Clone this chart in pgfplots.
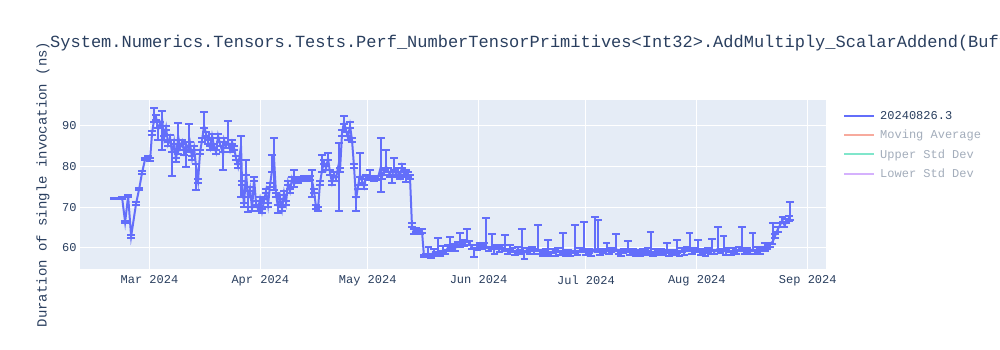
\documentclass[border=0pt]{standalone}
\usepackage{pgfplots}
\pgfplotsset{compat=1.18}
\usepackage{pgfplotstable}
\usepackage{fontspec}
\setmainfont{Liberation Mono}
\definecolor{plotblue}{HTML}{636EFA}
\definecolor{bgcol}{HTML}{E5ECF6}
\definecolor{txt}{HTML}{2A3F5F}
\definecolor{legfade}{HTML}{A3ADBB}
\definecolor{maf}{HTML}{F7AA9D}
\definecolor{upf}{HTML}{80E6CB}
\definecolor{lof}{HTML}{D5B1FD}

\pgfplotstableread{
d v ep em
-9.86 72.1 0.2 0.2
-7.63 72.3 0.3 0.3
-6.79 66.3 0.3 0.3
-5.95 72.7 0.3 0.3
-5.11 62.8 0.3 0.3
-3.72 70.9 0.3 0.3
-2.88 74.4 0.3 0.3
-2.04 78.5 0.3 0.3
-1.20 81.8 0.3 0.3
-0.36 82.3 0.3 0.3
0.20 81.8 0.3 0.6
0.75 88.3 0.5 0.5
1.31 91.4 3.0 0.5
1.87 92.0 0.5 0.6
2.43 89.0 0.5 2.5
2.99 90.5 0.5 0.5
3.55 91.5 2.2 7.5
4.11 87.0 0.5 0.5
4.66 89.5 0.5 0.6
5.22 85.5 0.4 0.5
5.78 87.0 0.6 0.5
6.34 83.0 0.5 5.3
6.90 86.0 0.5 0.5
7.46 81.5 0.5 0.5
8.02 87.5 3.2 4.5
8.58 84.5 0.4 0.5
9.13 86.0 0.5 0.5
9.69 83.5 0.5 0.6
10.25 85.5 0.5 5.6
11.09 84.0 6.3 0.5
11.37 85.5 0.5 0.5
11.93 82.0 0.5 0.5
12.49 84.5 0.5 0.5
13.04 80.0 0.5 5.8
13.60 76.5 0.5 0.5
14.16 83.5 0.5 0.5
14.72 86.5 0.5 0.5
15.28 90.0 3.4 0.5
15.84 88.0 0.5 0.5
16.40 86.0 0.5 0.5
16.96 84.5 0.5 0.5
17.51 87.5 0.5 0.5
18.07 85.0 0.5 0.5
18.63 83.5 0.5 0.5
19.19 87.5 0.5 0.5
19.75 85.5 0.5 0.5
20.59 83.0 0.5 3.9
20.87 86.5 0.5 0.5
21.42 85.0 0.5 0.5
21.98 86.0 5.2 0.5
22.54 84.0 0.5 0.5
23.10 86.0 0.5 0.5
23.66 84.5 0.5 0.5
24.22 82.0 0.5 0.5
24.78 80.0 0.5 0.5
25.61 85.0 2.5 12.5
25.89 76.0 0.5 0.5
26.45 70.5 0.5 0.5
27.01 78.5 3.0 0.5
27.57 72.0 0.5 3.2
28.13 74.5 0.5 0.5
28.69 69.5 0.5 0.5
29.25 77.0 0.5 0.5
29.80 71.0 0.5 0.5
30.36 69.5 0.5 0.5
30.92 72.0 0.5 0.5
31.48 69.0 0.5 0.5
32.04 71.5 0.5 0.5
32.60 74.0 0.5 0.5
33.16 70.5 0.5 0.5
33.72 75.5 0.5 0.5
34.27 79.0 3.8 0.5
34.83 82.0 5.0 7.8
35.39 73.0 0.5 0.5
35.95 70.0 0.5 1.4
36.51 72.5 0.5 0.5
37.07 69.5 0.5 0.5
37.63 73.5 0.5 0.5
38.18 71.0 0.5 0.5
38.74 76.0 0.5 0.5
39.30 74.0 0.5 0.5
39.86 77.0 0.5 0.5
40.42 75.5 3.6 0.5
40.98 77.0 0.5 0.5
41.54 76.5 0.5 0.5
42.09 77.0 0.5 0.5
42.65 76.8 0.5 0.5
43.21 77.2 0.5 0.5
43.77 76.8 0.5 0.5
44.33 77.0 0.5 0.5
44.89 77.2 0.5 0.5
45.45 76.5 2.6 4.0
46.00 74.0 0.5 0.5
46.56 70.0 0.5 0.5
47.12 69.5 0.5 0.5
47.68 76.0 0.5 0.5
48.24 79.0 3.8 0.5
48.80 81.0 0.5 0.5
49.36 79.5 0.5 0.5
49.92 82.0 1.3 0.5
50.47 78.5 0.5 0.5
51.03 76.0 0.5 0.5
51.59 78.0 0.5 0.5
52.15 77.0 0.5 0.5
53.00 81.0 4.8 12.0
53.27 79.0 0.5 0.5
53.83 88.0 1.0 0.5
54.39 91.0 1.4 0.5
54.94 89.0 0.5 0.5
55.50 87.0 0.5 0.5
56.06 90.0 0.8 0.5
56.62 86.5 0.5 0.5
57.18 80.0 0.5 0.5
57.74 72.0 0.5 3.0
58.30 75.0 0.5 0.5
58.85 78.0 5.3 0.5
59.41 76.5 0.5 0.5
59.97 75.0 0.5 0.5
60.53 77.5 0.5 0.5
61.09 77.2 0.5 0.5
61.65 77.2 1.8 0.5
62.21 77.2 0.5 0.5
62.77 77.0 0.5 0.5
63.32 77.2 0.5 0.5
63.88 77.2 0.5 0.5
64.72 80.0 7.0 6.3
65.00 77.5 0.5 0.5
65.56 78.5 0.5 0.5
66.12 80.0 4.0 0.5
66.68 79.0 0.5 0.5
67.23 78.0 0.5 0.5
67.79 77.5 0.5 1.5
68.35 79.5 2.5 0.5
68.91 78.0 0.5 0.5
69.47 79.0 0.5 0.5
70.03 77.5 0.5 0.5
70.59 80.0 0.5 0.5
71.15 78.0 0.5 0.5
71.70 78.5 0.5 2.3
72.26 78.0 0.5 0.5
72.82 77.5 0.5 0.5
73.38 65.5 0.5 0.5
73.94 64.0 0.5 0.5
74.50 64.3 0.5 0.5
75.06 63.8 0.5 0.5
75.61 64.0 0.5 0.5
76.17 64.2 0.5 0.6
76.73 58.0 0.3 0.3
77.3 58.2 0.4 0.4
78.0 58.6 1.6 0.4
78.7 58.0 0.5 0.4
79.4 59.0 0.6 0.5
80.1 58.4 0.5 0.5
80.7 59.2 3.1 0.6
81.4 58.6 0.6 0.5
82.1 59.5 1.0 0.5
82.8 59.0 0.5 0.6
83.4 60.0 0.6 0.5
84.0 59.6 3.1 0.5
84.7 60.4 0.5 0.6
85.4 59.8 0.6 0.5
86.1 61.0 0.5 0.6
86.8 60.6 3.1 0.5
87.5 61.5 0.5 0.5
88.1 61.0 0.6 0.5
88.7 62.0 2.7 0.5
89.4 61.2 0.5 0.5
90.1 60.2 0.5 0.6
90.8 59.4 0.5 1.7
91.5 60.0 0.6 0.5
92.2 60.8 0.5 0.5
92.9 60.2 0.5 0.5
93.5 60.6 0.5 0.6
94.1 60.4 7.0 0.5
94.8 59.8 0.5 0.5
95.7 60.2 3.3 0.5
96.4 59.6 0.5 1.0
97.1 60.3 0.5 0.5
97.8 59.5 0.6 0.5
98.5 60.1 0.5 0.5
99.4 59.8 3.3 0.5
100.1 59.2 0.5 0.6
100.8 60.0 0.6 0.5
101.5 59.4 0.5 0.5
102.2 58.8 0.5 0.5
102.9 59.6 0.5 0.6
103.5 59.0 0.5 0.5
104.1 59.5 5.0 0.5
104.8 58.8 0.5 1.6
105.5 59.4 0.5 0.5
106.2 58.9 0.6 0.5
106.9 59.8 0.5 0.5
107.6 59.2 0.5 0.6
108.6 59.6 6.0 0.5
109.3 59.0 0.5 0.5
110.0 58.6 0.6 0.5
110.7 59.3 0.5 0.5
111.4 59.0 3.0 0.6
112.1 58.5 0.5 0.5
112.8 59.2 0.5 0.5
113.5 58.7 0.5 0.6
114.2 59.4 0.6 0.5
114.9 58.8 0.5 0.5
115.6 59.2 4.4 0.5
116.3 58.5 0.5 0.6
117.0 59.0 0.5 0.5
117.7 58.6 0.5 0.5
118.9 59.3 6.3 0.5
119.6 58.8 0.5 0.5
120.3 59.4 0.5 0.5
121.4 59.6 6.8 0.6
122.1 58.7 0.5 0.5
122.8 59.2 0.5 0.5
123.5 58.6 0.5 0.6
124.5 59.8 7.8 0.5
125.3 59.5 7.4 0.5
126.0 58.8 0.5 0.5
126.7 59.3 0.5 0.6
127.8 59.6 1.6 0.5
128.5 58.9 0.5 0.5
129.2 59.5 0.5 0.5
130.4 59.8 3.6 0.5
131.1 59.0 0.5 0.6
131.8 58.6 0.5 0.5
132.5 59.3 0.5 0.5
133.7 59.4 2.2 0.5
134.4 58.9 0.5 0.6
135.1 59.3 0.5 0.5
135.8 58.6 0.5 0.5
136.5 59.0 0.5 0.5
137.2 58.5 0.5 0.6
137.9 59.2 0.5 0.5
138.6 58.8 0.5 0.5
139.3 59.4 0.5 0.5
140.1 59.0 5.0 0.5
140.8 58.5 0.5 0.6
141.5 59.1 0.5 0.5
142.2 58.7 0.5 0.5
142.9 59.3 0.5 0.5
143.6 58.9 0.5 0.6
144.6 59.3 1.9 0.5
145.3 58.6 0.5 0.5
146.0 59.0 0.5 0.5
146.7 58.8 0.5 0.6
147.4 59.2 2.8 0.5
148.1 58.6 0.5 0.5
148.8 59.4 0.5 0.5
149.5 58.9 0.5 0.6
150.2 59.6 0.5 0.5
151.0 59.8 3.8 0.5
151.7 59.0 0.5 0.5
152.4 59.5 0.5 0.6
153.3 59.4 2.6 0.5
154.0 58.8 0.5 0.5
154.7 59.2 0.5 0.5
155.4 58.7 0.5 0.6
156.1 59.4 0.5 0.5
156.8 59.0 0.5 0.5
157.2 59.6 2.6 0.5
157.9 59.0 0.5 0.5
158.9 59.8 5.4 0.6
159.6 59.2 0.5 0.5
160.5 59.6 3.4 0.5
161.2 58.9 0.5 0.6
161.9 59.4 0.5 0.5
162.6 58.8 0.5 0.5
163.3 59.5 0.5 0.5
164.0 59.0 0.5 0.6
164.8 59.6 0.5 0.5
165.6 59.8 5.4 0.5
166.3 59.0 0.5 0.5
167.0 59.5 0.5 0.6
167.7 58.9 0.5 0.5
168.6 59.6 4.0 0.5
169.3 59.0 0.5 0.5
170.0 59.6 0.5 0.6
170.7 59.1 0.5 0.5
171.4 59.8 0.5 0.5
172.0 59.6 1.6 0.5
172.7 60.2 0.5 0.6
173.4 60.8 0.5 0.5
174.2 61.5 4.5 0.5
174.9 63.0 0.5 0.6
175.6 64.5 0.5 0.5
176.2 65.5 0.5 0.5
176.9 66.8 0.8 0.5
177.5 65.5 0.5 0.5
178.1 66.5 0.5 0.5
178.7 67.2 0.5 0.5
178.97 67.3 4.0 0.5
}\datatable

\begin{document}
\begin{tikzpicture}[x=1pt,y=1pt]
\useasboundingbox (0,0) rectangle (1000,350);
\fill[white] (0,0) rectangle (1000,350);
\node[anchor=base west, inner sep=0pt, font=\fontsize{17}{20}\selectfont, text=txt] at (50,302)
 {System.Numerics.Tensors.Tests.Perf\_NumberTensorPrimitives<Int32>.AddMultiply\_ScalarAddend(Buffer)};
\begin{axis}[
  at={(80pt,81pt)}, anchor=south west,
  width=746pt, height=169pt, scale only axis,
  xmin=-19.4, xmax=189.1, ymin=54.8, ymax=96.3,
  axis background/.style={fill=bgcol},
  axis line style={draw=none},
  tick style={draw=none},
  grid=major,
  major grid style={white, line width=1pt},
  xtick={0,31,61,92,122,153,184},
  xticklabels={Mar 2024,Apr 2024,May 2024,Jun 2024,Jul 2024,Aug 2024,Sep 2024},
  ytick={60,70,80,90},
  /pgf/number format/assume math mode=true,
  tick label style={font=\fontsize{12}{14}\selectfont, text=txt},
  xticklabel style={yshift=-3pt},
  ylabel={Duration of single invocation (ns)},
  ylabel style={at={(axis description cs:-0.0496,0.5)}, anchor=center, font=\fontsize{14}{16}\selectfont, text=txt},
  legend style={at={(1,1)}, anchor=north west, xshift=14pt, yshift=-7pt, draw=none, fill=none,
     font=\fontsize{12}{14}\selectfont, text=txt, row sep=5.2pt, cells={anchor=west},
     /tikz/every odd column/.append style={column sep=3pt}},
  legend image code/.code={\draw[#1, line width=2pt] (0pt,0pt) -- (30pt,0pt);},
]
\addplot[color=plotblue, line width=2pt, mark=none,
  error bars/.cd, y dir=both, y explicit,
  error bar style={line width=2pt, color=plotblue},
  error mark options={rotate=90, mark size=3.8pt, line width=2pt, color=plotblue}]
  table[x=d, y=v, y error plus=ep, y error minus=em] {\datatable};
\addlegendentry{20240826.3}
\addlegendimage{maf}
\addlegendentry{\textcolor{legfade}{Moving Average}}
\addlegendimage{upf}
\addlegendentry{\textcolor{legfade}{Upper Std Dev}}
\addlegendimage{lof}
\addlegendentry{\textcolor{legfade}{Lower Std Dev}}
\end{axis}
\end{tikzpicture}
\end{document}
